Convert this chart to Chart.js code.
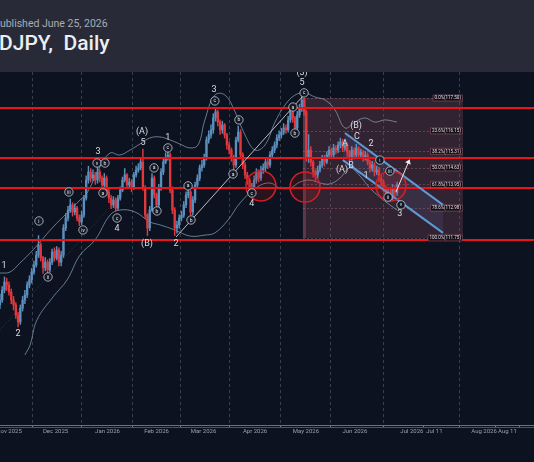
<!DOCTYPE html>
<html>
<head>
<meta charset="utf-8">
<script src="https://cdn.jsdelivr.net/npm/chart.js@4.4.1/dist/chart.umd.min.js"></script>
<style>
html, body { margin: 0; padding: 0; background: #0c121f; width: 534px; height: 462px; overflow: hidden; font-family: Roboto, 'Noto Sans', sans-serif; }
#head { position: absolute; left: 0; top: 0; width: 534px; height: 72px; background: #282b37; }
#pub { position: absolute; left: -6px; top: 17px; font-size: 10.5px; color: #a9acb6; white-space: pre; }
#title { position: absolute; left: -1px; top: 31px; font-size: 21px; color: #eceef2; font-weight: 500; white-space: pre; }
#wrap { position: absolute; left: 0; top: 72px; width: 534px; height: 390px; }
</style>
</head>
<body>
<div id="head">
  <div id="pub">published June 25, 2026</div>
  <div id="title">DJPY,  Daily</div>
</div>
<div id="wrap"><canvas id="chart" width="534" height="390"></canvas></div>
<script>
// daily candles, bar index -4 .. 171 (index 0 = first day of Nov 2025)
const firstIndex = -4;
const firstOpen = 109.00;
const closes = [
  109.20,109.61,109.94,109.82,109.53,109.20,109.00,108.59,108.30,108.87,
  109.20,109.41,109.82,110.03,110.35,110.64,111.05,111.46,110.93,110.52,
  110.76,110.44,110.76,111.18,110.93,111.26,110.76,111.05,112.16,112.57,
  112.90,113.11,112.82,112.98,112.57,112.41,112.69,113.39,114.13,114.46,
  114.21,114.34,114.13,114.46,114.21,113.93,114.21,113.64,113.39,113.11,
  113.31,112.98,113.39,113.72,114.13,114.34,113.93,114.05,113.80,114.34,
  114.54,114.63,114.87,113.80,112.69,112.16,112.90,114.21,113.52,113.11,
  113.80,114.46,114.87,115.04,115.16,113.72,112.90,112.16,112.29,112.57,
  112.69,113.11,113.52,113.64,112.82,113.31,113.93,114.21,114.63,114.75,
  115.04,115.78,115.98,116.19,116.68,116.93,116.51,116.19,116.39,115.98,
  115.57,115.36,115.04,114.75,115.78,116.10,115.16,114.75,114.34,114.13,
  113.72,113.84,114.13,114.46,114.21,114.54,114.63,114.87,114.75,115.16,
  115.36,115.57,115.86,115.98,116.10,116.27,116.19,116.60,116.93,116.68,
  116.27,116.80,117.09,117.42,116.93,115.04,115.36,114.87,114.46,114.34,
  114.54,114.75,115.04,114.87,115.16,115.36,115.16,115.45,115.36,115.57,
  115.69,115.45,115.57,115.28,115.04,115.36,115.16,115.45,115.16,115.28,
  115.04,115.16,114.87,114.63,114.75,114.46,114.54,114.21,114.05,113.80,
  113.52,113.64,113.39,113.80,113.60,113.93
];
const highs = [
  109.45,109.75,110.15,110.10,109.95,109.65,109.35,109.10,108.70,109.00,
  109.35,109.60,109.95,110.20,110.50,110.80,111.20,111.85,111.55,111.00,
  110.95,110.85,110.90,111.30,111.35,111.40,111.35,111.20,112.30,112.75,
  113.05,113.35,113.20,113.15,113.05,112.70,112.85,113.50,114.30,114.70,
  114.60,114.55,114.45,114.65,114.55,114.30,114.40,114.30,113.75,113.50,
  113.45,113.40,113.50,113.85,114.25,114.60,114.40,114.20,114.15,114.45,
  114.70,114.80,115.00,115.40,113.90,112.75,113.05,114.40,114.30,113.60,
  113.95,114.60,115.00,115.25,115.40,115.25,113.85,113.00,112.45,112.70,
  112.85,113.25,113.65,113.85,113.70,113.45,114.05,114.35,114.75,114.95,
  115.20,115.90,116.15,116.40,116.85,117.10,117.00,116.60,116.55,116.45,
  116.05,115.70,115.45,115.15,115.90,116.35,116.20,115.25,114.85,114.45,
  114.20,114.00,114.30,114.60,114.55,114.70,114.80,115.00,115.00,115.30,
  115.50,115.70,116.00,116.15,116.25,116.45,116.40,116.75,117.10,117.00,
  116.75,116.95,117.25,117.55,117.50,117.00,116.00,115.50,114.95,114.55,
  114.70,114.90,115.15,115.15,115.30,115.50,115.45,115.60,115.55,115.70,
  115.85,115.80,115.75,115.65,115.35,115.50,115.45,115.60,115.50,115.40,
  115.35,115.30,115.25,114.95,114.90,114.85,114.70,114.65,114.35,114.15,
  113.90,113.80,113.75,113.95,113.90,114.05
];
const lows = [
  108.85,109.10,109.50,109.60,109.40,109.05,108.80,108.45,108.10,108.20,
  108.75,109.05,109.30,109.70,109.90,110.25,110.55,110.95,110.80,110.30,
  110.40,110.25,110.35,110.65,110.80,110.85,110.60,110.60,110.95,112.05,
  112.45,112.80,112.65,112.70,112.45,112.25,112.30,112.60,113.30,114.00,
  114.05,114.10,113.95,114.00,114.05,113.75,113.85,113.50,113.20,112.95,
  113.00,112.85,112.90,113.30,113.65,114.05,113.80,113.85,113.65,113.75,
  114.25,114.45,114.55,113.70,112.55,111.85,112.05,112.85,113.40,112.95,
  113.00,113.70,114.35,114.80,114.95,113.60,112.75,111.85,111.95,112.15,
  112.45,112.60,113.00,113.40,112.70,112.70,113.20,113.80,114.10,114.50,
  114.65,114.95,115.65,115.85,116.05,116.55,116.35,116.00,116.05,115.85,
  115.40,115.20,114.90,114.50,114.65,115.70,115.05,114.60,114.20,113.95,
  113.55,113.60,113.75,114.00,114.05,114.10,114.40,114.50,114.60,114.65,
  115.05,115.25,115.45,115.75,115.85,116.00,116.05,116.10,116.50,116.50,
  116.10,116.20,116.70,116.95,116.80,114.90,114.85,114.70,114.25,114.10,
  114.20,114.45,114.65,114.70,114.80,115.05,115.00,115.05,115.20,115.25,
  115.45,115.30,115.35,115.10,114.90,114.95,115.00,115.05,115.05,115.05,
  114.90,114.95,114.75,114.45,114.50,114.30,114.35,114.05,113.90,113.65,
  113.35,113.40,113.25,113.30,113.45,113.50
];

// bollinger bands (bar index, price)
const bandX     = [-4, 0.4, 4.8, 10.6, 19.4, 25.6, 31.3, 34.4, 40.1, 44.5, 48.9, 53.3, 57.7, 62.1, 66.5, 70.9, 75.3, 79.7, 83.3, 86.3, 90.7, 95.2, 99.6, 104.0, 108.4, 112.8, 117.2, 121.6, 126.0, 130.4, 134.8, 139.2, 143.6, 148.0, 152.4, 156.8, 161.2, 165.6, 170.9];
const bandUpper = [110.31, 110.35, 110.72, 111.26, 112.20, 112.78, 113.31, 113.60, 114.67, 115.24, 115.16, 115.36, 115.61, 115.86, 115.90, 115.78, 115.61, 115.45, 115.57, 116.60, 117.62, 117.62, 116.93, 115.98, 115.36, 115.57, 116.51, 117.21, 117.62, 117.71, 117.54, 117.42, 117.01, 116.27, 116.51, 116.68, 116.51, 116.60, 116.51];
const lowX      = [7.0, 9.3, 12.3, 19.4, 25.6, 31.3, 37.9, 44.5, 48.9, 55.5, 62.1, 66.5, 73.1, 79.7, 86.3, 90.7, 96.5, 101.8, 109.3, 115.0, 119.4, 123.8, 128.2, 132.6, 137.0, 141.4, 145.8, 150.2, 154.6, 159.0, 163.4, 167.8, 170.9];
const bandLower = [106.95, 107.36, 108.38, 109.33, 110.03, 111.05, 111.67, 112.69, 112.90, 112.82, 112.41, 112.29, 112.08, 111.83, 111.87, 111.96, 112.49, 113.19, 113.84, 114.01, 113.80, 113.80, 114.05, 114.13, 114.01, 113.97, 114.21, 114.63, 114.30, 113.80, 113.43, 113.11, 112.90];

// time axis
const tickPos    = [0, 20.5, 43.4, 65.0, 85.7, 108.4, 130.8, 152.4, 177.5, 187.4, 209.3, 219.6];
const tickLabels = ['Nov 2025', 'Dec 2025', 'Jan 2026', 'Feb 2026', 'Mar 2026', 'Apr 2026', 'May 2026', 'Jun 2026', 'Jul 2026', 'Jul 11', 'Aug 2026', 'Aug 11'];

// drawings
const redLevels  = [117.09, 115.04, 113.80, 111.67];
const fibPercent = ['0.0%', '23.6%', '38.2%', '50.0%', '61.8%', '78.6%', '100.0%'];
const fibPrices  = [117.50, 116.15, 115.31, 114.63, 113.95, 112.98, 111.75];
const fibFrom = 129.5, fibTo = 200.0;
const chanUpper = [[148.0, 116.06], [191.2, 113.11]];
const chanLower = [[147.1, 114.95], [191.2, 111.96]];
const trendLine = [[73.6, 111.79], [129.5, 117.58]];
const faintLine = [[-4, 107.97], [51.1, 113.72]];
const arrowLine = [[170.5, 113.64], [176.2, 114.91]];
const circles   = [[111.0, 113.89], [130.4, 113.84], [168.3, 113.89]];

const waveLabels = [
  ['1', -2.2, 110.60], ['2', 4.0, 107.81], ['3', 39.2, 115.28], ['4', 47.6, 112.12],
  ['5', 59.0, 115.65], ['(A)', 58.6, 116.10], ['1', 70.0, 115.86], ['(B)', 60.8, 111.50],
  ['2', 73.6, 111.50], ['3', 90.3, 117.83], ['4', 107.0, 113.15], ['5', 129.1, 118.12],
  ['(3)', 129.1, 118.53], ['(B)', 152.9, 116.35], ['C', 153.3, 115.90], ['A', 148.0, 115.61],
  ['(A)', 146.7, 114.54], ['B', 150.7, 114.71], ['2', 159.5, 115.61], ['1', 157.3, 114.30],
  ['3', 172.2, 112.74]
];
const subLabels = [
  ['i', 13.2, 112.45], ['ii', 17.2, 110.15], ['iii', 26.4, 113.64], ['iv', 32.6, 112.08],
  ['v', 38.8, 114.83], ['b', 42.3, 114.83], ['a', 41.4, 113.60], ['c', 47.6, 112.57],
  ['a', 63.9, 114.63], ['b', 65.2, 112.86], ['c', 70.0, 115.45], ['a', 78.9, 113.89],
  ['b', 80.2, 112.49], ['c', 90.7, 117.38], ['b', 101.3, 116.60], ['a', 98.7, 114.38],
  ['c', 107.0, 113.60], ['a', 125.1, 117.13], ['b', 126.0, 116.06], ['c', 130.0, 117.71],
  ['i', 163.4, 114.95], ['iii', 167.8, 114.50], ['ii', 167.0, 113.43], ['v', 172.7, 113.11]
];

const opens = closes.map((c, k) => k === 0 ? firstOpen : closes[k - 1]);
const upColor = '#5b8fbd';
const downColor = '#e0383c';
const candleColors = closes.map((c, k) => c >= opens[k] ? upColor : downColor);

const drawings = {
  id: 'drawings',
  beforeDatasetsDraw(chart) {
    const ctx = chart.ctx, x = chart.scales.x, y = chart.scales.y, a = chart.chartArea;
    ctx.save();
    ctx.beginPath();
    ctx.rect(a.left, a.top, a.right - a.left, a.bottom - a.top);
    ctx.clip();
    // fib box
    const x0 = x.getPixelForValue(fibFrom), x1 = x.getPixelForValue(fibTo);
    const yt = y.getPixelForValue(fibPrices[0]), yb = y.getPixelForValue(fibPrices[fibPrices.length - 1]);
    ctx.fillStyle = 'rgba(140, 75, 95, 0.30)';
    ctx.fillRect(x0, yt, x1 - x0, yb - yt);
    ctx.fillStyle = 'rgba(190, 110, 130, 0.30)';
    ctx.fillRect(x0, yt, 3, yb - yt);
    ctx.strokeStyle = 'rgba(200, 130, 145, 0.45)';
    ctx.lineWidth = 0.8;
    ctx.setLineDash([2, 2]);
    fibPrices.forEach(p => {
      const yy = Math.round(y.getPixelForValue(p)) + 0.5;
      ctx.beginPath(); ctx.moveTo(x0, yy); ctx.lineTo(x1, yy); ctx.stroke();
    });
    // faint trend line
    ctx.strokeStyle = 'rgba(150, 165, 185, 0.35)';
    ctx.setLineDash([1, 2]);
    ctx.beginPath();
    ctx.moveTo(x.getPixelForValue(faintLine[0][0]), y.getPixelForValue(faintLine[0][1]));
    ctx.lineTo(x.getPixelForValue(faintLine[1][0]), y.getPixelForValue(faintLine[1][1]));
    ctx.stroke();
    ctx.setLineDash([]);
    // channel fill
    ctx.fillStyle = 'rgba(90, 130, 190, 0.14)';
    ctx.beginPath();
    ctx.moveTo(x.getPixelForValue(chanUpper[0][0]), y.getPixelForValue(chanUpper[0][1]));
    ctx.lineTo(x.getPixelForValue(chanUpper[1][0]), y.getPixelForValue(chanUpper[1][1]));
    ctx.lineTo(x.getPixelForValue(chanLower[1][0]), y.getPixelForValue(chanLower[1][1]));
    ctx.lineTo(x.getPixelForValue(chanLower[0][0]), y.getPixelForValue(chanLower[0][1]));
    ctx.closePath();
    ctx.fill();
    ctx.restore();
  },
  afterDatasetsDraw(chart) {
    const ctx = chart.ctx, x = chart.scales.x, y = chart.scales.y, a = chart.chartArea;
    const P = pt => [x.getPixelForValue(pt[0]), y.getPixelForValue(pt[1])];
    ctx.save();
    ctx.beginPath();
    ctx.rect(a.left, a.top, a.right - a.left, a.bottom - a.top);
    ctx.clip();
    // red horizontal levels
    ctx.strokeStyle = '#e8161b';
    ctx.lineWidth = 2;
    redLevels.forEach(p => {
      const yy = Math.round(y.getPixelForValue(p));
      ctx.beginPath(); ctx.moveTo(a.left, yy); ctx.lineTo(a.right, yy); ctx.stroke();
    });
    // trend line 2 -> 5
    ctx.strokeStyle = 'rgba(215, 218, 225, 0.85)';
    ctx.lineWidth = 1;
    let s = P(trendLine[0]), e = P(trendLine[1]);
    ctx.beginPath(); ctx.moveTo(s[0], s[1]); ctx.lineTo(e[0], e[1]); ctx.stroke();
    // channel lines
    ctx.strokeStyle = '#5d9ad6';
    ctx.lineWidth = 2;
    [chanUpper, chanLower].forEach(l => {
      const p0 = P(l[0]), p1 = P(l[1]);
      ctx.beginPath(); ctx.moveTo(p0[0], p0[1]); ctx.lineTo(p1[0], p1[1]); ctx.stroke();
    });
    // circles
    circles.forEach(c => {
      const p = P(c);
      ctx.beginPath(); ctx.arc(p[0], p[1], 15, 0, Math.PI * 2);
      ctx.fillStyle = 'rgba(190, 25, 30, 0.18)';
      ctx.fill();
      ctx.strokeStyle = '#d42026';
      ctx.lineWidth = 1.5;
      ctx.stroke();
    });
    // arrow
    s = P(arrowLine[0]); e = P(arrowLine[1]);
    ctx.strokeStyle = '#e8e8ea';
    ctx.fillStyle = '#e8e8ea';
    ctx.lineWidth = 1;
    ctx.beginPath(); ctx.moveTo(s[0], s[1]); ctx.lineTo(e[0], e[1]); ctx.stroke();
    const ang = Math.atan2(e[1] - s[1], e[0] - s[0]);
    ctx.beginPath();
    ctx.moveTo(e[0] + Math.cos(ang) * 2, e[1] + Math.sin(ang) * 2);
    ctx.lineTo(e[0] + Math.cos(ang + 2.3) * 4, e[1] + Math.sin(ang + 2.3) * 4);
    ctx.lineTo(e[0] + Math.cos(ang - 2.3) * 4, e[1] + Math.sin(ang - 2.3) * 4);
    ctx.closePath(); ctx.fill();
    // fib labels
    const xr = x.getPixelForValue(fibTo) - 0.5;
    ctx.font = '4.5px Roboto, sans-serif';
    ctx.textBaseline = 'middle';
    ctx.textAlign = 'right';
    fibPrices.forEach((p, k) => {
      const t = fibPercent[k] + '(' + p.toFixed(2) + ')';
      const w = ctx.measureText(t).width;
      const yy = y.getPixelForValue(p);
      ctx.fillStyle = 'rgba(18, 12, 22, 0.9)';
      ctx.strokeStyle = 'rgba(210, 130, 140, 0.6)';
      ctx.lineWidth = 0.6;
      ctx.beginPath();
      ctx.rect(xr - w - 3, yy - 3, w + 3, 6);
      ctx.fill(); ctx.stroke();
      ctx.fillStyle = '#e6dfe2';
      ctx.fillText(t, xr - 1.5, yy + 0.3);
    });
    // wave labels
    ctx.textAlign = 'center';
    ctx.font = '9px Roboto, sans-serif';
    ctx.fillStyle = '#dcdde2';
    waveLabels.forEach(l => {
      ctx.fillText(l[0], x.getPixelForValue(l[1]), y.getPixelForValue(l[2]));
    });
    ctx.font = '5px Roboto, sans-serif';
    subLabels.forEach(l => {
      const px = x.getPixelForValue(l[1]), py = y.getPixelForValue(l[2]);
      ctx.beginPath(); ctx.arc(px, py, 4.2, 0, Math.PI * 2);
      ctx.fillStyle = '#121826'; ctx.fill();
      ctx.strokeStyle = '#c9cdd4'; ctx.lineWidth = 0.8; ctx.stroke();
      ctx.fillStyle = '#e2e4e8';
      ctx.fillText(l[0], px, py + 0.3);
    });
    ctx.restore();
    // second axis line
    ctx.save();
    ctx.strokeStyle = '#4d535e';
    ctx.lineWidth = 1;
    ctx.beginPath(); ctx.moveTo(a.left, a.bottom + 2.5); ctx.lineTo(a.right, a.bottom + 2.5); ctx.stroke();
    ctx.restore();
  }
};

const ctx = document.getElementById('chart').getContext('2d');
new Chart(ctx, {
  type: 'bar',
  data: {
    datasets: [
      {
        type: 'line',
        data: bandX.map((v, k) => ({ x: v, y: bandUpper[k] })),
        borderColor: 'rgba(130, 160, 180, 0.75)',
        borderWidth: 1,
        pointRadius: 0,
        tension: 0.4,
        order: 3
      },
      {
        type: 'line',
        data: lowX.map((v, k) => ({ x: v, y: bandLower[k] })),
        borderColor: 'rgba(130, 160, 180, 0.75)',
        borderWidth: 1,
        pointRadius: 0,
        tension: 0.4,
        order: 3
      },
      {
        data: closes.map((c, k) => ({ x: k + firstIndex, y: [lows[k], highs[k]] })),
        backgroundColor: candleColors,
        barThickness: 0.8,
        grouped: false,
        order: 2
      },
      {
        data: closes.map((c, k) => ({ x: k + firstIndex, y: [opens[k], c] })),
        backgroundColor: candleColors,
        barThickness: 1.7,
        minBarLength: 1,
        grouped: false,
        order: 1
      }
    ]
  },
  options: {
    responsive: false,
    animation: false,
    devicePixelRatio: 1,
    layout: { padding: 0, autoPadding: false },
    plugins: { legend: { display: false }, tooltip: { enabled: false } },
    scales: {
      x: {
        type: 'linear',
        min: -3.96,
        max: 231.3,
        offset: false,
        afterBuildTicks: scale => { scale.ticks = tickPos.map(v => ({ value: v })); },
        afterFit: scale => {
          scale.height = 37;
          scale.paddingLeft = 0;
          scale.paddingRight = 0;
        },
        ticks: {
          autoSkip: false,
          maxRotation: 0,
          padding: 1,
          color: '#9aa0aa',
          font: { size: 6, family: 'Roboto' },
          callback: (v, i) => tickLabels[i]
        },
        grid: {
          color: c => (tickLabels[c.index] || '').indexOf('20') >= 0 ? '#394050' : 'rgba(0,0,0,0)',
          tickColor: '#7a808a',
          tickLength: 2
        },
        border: { color: '#6b717c', dash: [3, 3] }
      },
      y: {
        display: false,
        min: 104.07,
        max: 118.568
      }
    }
  },
  plugins: [drawings]
});
</script>
</body>
</html>
